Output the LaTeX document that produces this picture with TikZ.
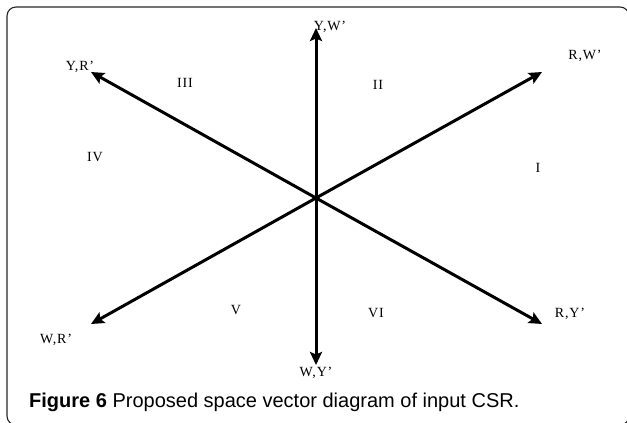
\documentclass[tikz,border=0pt]{standalone}
\usepackage{fontspec}
\setmainfont{Liberation Serif}
\newfontfamily\labfont[LetterSpace=6]{Liberation Serif}
\newfontfamily\capfont{Liberation Sans}
\usetikzlibrary{arrows.meta}
\begin{document}
\begin{tikzpicture}[x=1pt,y=-1pt,
  vec/.style={line width=3pt,-{Stealth[length=13pt,width=12pt,inset=2.5pt]}},
  lab/.style={font=\labfont\fontsize{14}{16}\selectfont,inner sep=0pt},
  sect/.style={font=\labfont\fontsize{14}{16}\selectfont,inner sep=0pt}]
\useasboundingbox (0,0) rectangle (627,423);
\draw[line width=1.1pt,black!85,rounded corners=9pt] (7,7) rectangle (629,425);
\coordinate (o) at (316,198);
\coordinate (tup) at (316,28);
\coordinate (tdn) at (316,365);
\coordinate (tul) at (91,72);
\coordinate (tur) at (542,72);
\coordinate (tdl) at (91,324);
\coordinate (tdr) at (542,324);
\draw[vec] (o) -- (tup);
\draw[vec] (o) -- (tdn);
\draw[vec] (o) -- (tul);
\draw[vec] (o) -- (tur);
\draw[vec] (o) -- (tdl);
\draw[vec] (o) -- (tdr);
\node[lab] (lyw) at (330,27) {Y,W’};
\node[lab] (lyr) at (80,67) {Y,R’};
\node[lab] (lrw) at (585,56) {R,W’};
\node[lab] (lwr) at (56,340) {W,R’};
\node[lab] (lry) at (570,314) {R,Y’};
\node[lab] (lwy) at (316,373) {W,Y’};
\node[sect] (s3) at (185,83) {III};
\node[sect] (s2) at (378,85) {II};
\node[sect] (s4) at (95,157) {IV};
\node[sect] (s1) at (538,168) {I};
\node[sect] (s5) at (236,310) {V};
\node[sect] (s6) at (376,313) {VI};
\node[anchor=west,inner sep=0pt,font=\capfont\fontsize{20}{22}\selectfont] (cap) at (29,402) {\textbf{Figure 6} Proposed space vector diagram of input CSR.};
\end{tikzpicture}
\end{document}
